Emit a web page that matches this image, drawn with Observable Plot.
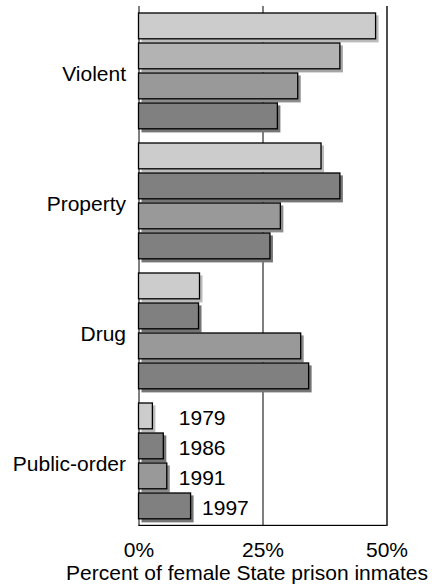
<!DOCTYPE html>
<html><head><meta charset="utf-8">
<script src="https://cdn.jsdelivr.net/npm/d3@7"></script>
<script src="https://cdn.jsdelivr.net/npm/@observablehq/plot@0.6"></script>
<style>body{margin:0;background:#fff} svg{display:block}</style>
</head><body><div id="chart"></div>
<script>
const categories = ["Violent", "Property", "Drug", "Public-order"];
const years = ["1979", "1986", "1991", "1997"];
const violent = [47.8, 40.6, 32.1, 28.0];
const property = [36.8, 40.6, 28.6, 26.5];
const drug = [12.3, 12.1, 32.7, 34.3];
const publicOrder = [2.8, 5.0, 5.7, 10.5];
const xTicks = [0, 25, 50];
const xTickLabels = ["0%", "25%", "50%"];
const xLabel = "Percent of female State prison inmates";

const series = [violent, property, drug, publicOrder];
const rows = categories.flatMap((cat, ci) => years.map((year, yi) => ({cat, year, value: series[ci][yi]})));

const yearFill = {"1979": "#cccccc", "1986": "#808080", "1991": "#999999", "1997": "#808080"};
const fillOf = d => (d.cat === "Violent" && d.year === "1986") ? "#b3b3b3" : yearFill[d.year];
const shadowOf = d => d3.color(fillOf(d)).darker(0.25).formatHex();
const lastCat = categories[categories.length - 1];

const chart = Plot.plot({
  width: 432,
  height: 588,
  marginLeft: 138.5,
  marginRight: 45.5,
  marginTop: 5.6,
  marginBottom: 62.4,
  style: {fontFamily: "'Liberation Sans', Arial, sans-serif", fontSize: "21px", color: "#000", background: "#fff"},
  x: {domain: [0, 50], axis: null},
  y: {domain: years, axis: null, paddingInner: 0.111, paddingOuter: 0.222},
  fy: {domain: categories, padding: 0, axis: null},
  marks: [
    Plot.ruleX([0, 25], {stroke: "#000", strokeWidth: 1}),
    Plot.ruleX([50], {stroke: "#222", strokeWidth: 1.6}),
    Plot.rect([lastCat], {fy: d => d, x1: 0, x2: 50, insetTop: 128.8, fill: "#000"}),
    Plot.barX(rows, {x: "value", y: "year", fy: "cat", fill: shadowOf, dx: 3, dy: 3}),
    Plot.barX(rows, {x: "value", y: "year", fy: "cat", fill: fillOf, stroke: "#000", strokeWidth: 1.3, insetTop: 0.6, insetBottom: 0.6}),
    Plot.text(rows.filter(d => d.cat === lastCat), {
      x: d => Math.max(d.value, 5.8), y: "year", fy: "cat", text: "year",
      textAnchor: "start", dx: 11, dy: 2, fontSize: 21, fill: "#000"
    }),
    Plot.axisFy({anchor: "left", tickSize: 0, tickPadding: 13, fontSize: 21, dy: 3, label: null}),
    Plot.axisX({ticks: xTicks, tickFormat: d => xTickLabels[xTicks.indexOf(d)], tickSize: 0, tickPadding: 16, fontSize: 21, label: null}),
    Plot.text([xLabel], {fy: [lastCat], text: d => d, frameAnchor: "bottom", dx: -16, dy: 53, fontSize: 21, fill: "#000"})
  ]
});
document.getElementById("chart").appendChild(chart);
</script>
</body></html>
